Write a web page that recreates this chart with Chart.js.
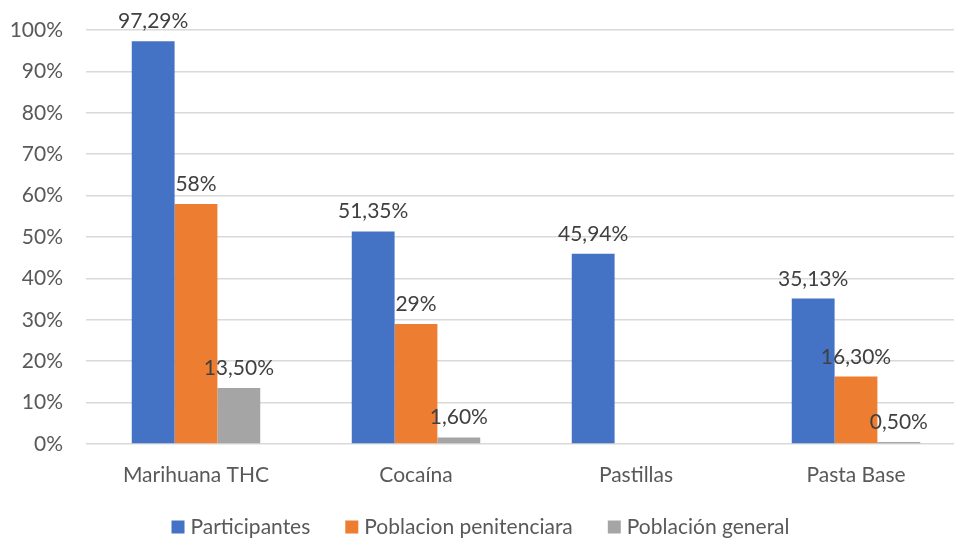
<!DOCTYPE html>
<html>
<head>
<meta charset="utf-8">
<script src="https://cdn.jsdelivr.net/npm/chart.js@4.4.1/dist/chart.umd.min.js"></script>
<style>
  html, body { margin: 0; padding: 0; background: #ffffff; overflow: hidden; }
  #marco { width: 954px; height: 540px; overflow: hidden; position: relative; }
  #lienzo { width: 966px; height: 540px; position: absolute; left: 0; top: 0; }
</style>
</head>
<body>
<div id="marco"><div id="lienzo"><canvas id="grafico"></canvas></div></div>
<script>
// --- DATOS ---
const categorias = ['Marihuana THC', 'Cocaína', 'Pastillas', 'Pasta Base'];
const participantes = [97.29, 51.35, 45.94, 35.13];
const poblacionPenitenciaria = [58, 29, null, 16.30];
const poblacionGeneral = [13.50, 1.60, null, 0.50];

const etiquetasParticipantes = ['97,29%', '51,35%', '45,94%', '35,13%'];
const etiquetasPenitenciaria = ['58%', '29%', '', '16,30%'];
const etiquetasGeneral = ['13,50%', '1,60%', '', '0,50%'];

const ticksY = [0, 10, 20, 30, 40, 50, 60, 70, 80, 90, 100];

const FUENTE = 'Lato, Carlito, Calibri, sans-serif';

// --- ETIQUETAS SOBRE LAS BARRAS ---
const pluginEtiquetas = {
    id: 'etiquetas',
    afterDatasetsDraw(chart) {
        const ctx = chart.ctx;
        ctx.save();
        ctx.font = '21px ' + FUENTE;
        ctx.fillStyle = '#404040';
        ctx.textAlign = 'center';
        ctx.textBaseline = 'alphabetic';
        chart.data.datasets.forEach((ds, i) => {
            const meta = chart.getDatasetMeta(i);
            meta.data.forEach((barra, j) => {
                const texto = ds.etiquetas[j];
                if (!texto || ds.data[j] == null) return;
                ctx.fillText(texto, barra.x, barra.y - 13);
            });
        });
        ctx.restore();
    }
};

// --- LEYENDA (dibujada a mano para controlar el espaciado) ---
const pluginLeyenda = {
    id: 'leyenda',
    afterDraw(chart) {
        const ctx = chart.ctx;
        const caja = 13, hueco = 6, separacion = 35;
        ctx.save();
        ctx.font = '21px ' + FUENTE;
        ctx.textBaseline = 'middle';
        ctx.textAlign = 'left';
        const items = chart.data.datasets.map(ds => ({
            texto: ds.label, color: ds.backgroundColor, ancho: ctx.measureText(ds.label).width
        }));
        const total = items.reduce((s, it) => s + caja + hueco + it.ancho, 0) + separacion * (items.length - 1);
        let x = 480.5 - total / 2;
        const y = 527;
        items.forEach(it => {
            ctx.fillStyle = it.color;
            ctx.fillRect(x, y - caja / 2, caja, caja);
            ctx.fillStyle = '#595959';
            ctx.fillText(it.texto, x + caja + hueco, y);
            x += caja + hueco + it.ancho + separacion;
        });
        ctx.restore();
    }
};

const ctx = document.getElementById('grafico').getContext('2d');
new Chart(ctx, {
    type: 'bar',
    data: {
        labels: categorias,
        datasets: [
            { label: 'Participantes', data: participantes, etiquetas: etiquetasParticipantes, backgroundColor: '#4472C4' },
            { label: 'Poblacion penitenciara', data: poblacionPenitenciaria, etiquetas: etiquetasPenitenciaria, backgroundColor: '#ED7D31' },
            { label: 'Población general', data: poblacionGeneral, etiquetas: etiquetasGeneral, backgroundColor: '#A5A5A5' }
        ]
    },
    options: {
        responsive: true,
        maintainAspectRatio: false,
        animation: false,
        layout: { padding: { top: 30, left: 0, right: 0, bottom: 0 } },
        datasets: { bar: { categoryPercentage: 0.584, barPercentage: 1.0, skipNull: false } },
        plugins: {
            legend: { display: false },
            tooltip: { enabled: false }
        },
        scales: {
            x: {
                afterFit(scale) { scale.height = 96; },
                grid: { display: false, drawTicks: false },
                border: { display: false },
                ticks: { color: '#595959', font: { family: FUENTE, size: 21 }, padding: 19, maxRotation: 0 }
            },
            y: {
                min: 0, max: 100,
                afterFit(scale) {
                    scale.width = 86;
                    scale.paddingTop = 0;
                    scale.paddingBottom = 0;
                },
                afterBuildTicks(scale) { scale.ticks = ticksY.map(v => ({ value: v })); },
                grid: { color: '#d9d9d9', lineWidth: 1.5, drawTicks: false },
                border: { display: false },
                ticks: {
                    color: '#595959', font: { family: FUENTE, size: 21 }, padding: 23,
                    callback: v => v + '%'
                }
            }
        }
    },
    plugins: [pluginEtiquetas, pluginLeyenda]
});
</script>
</body>
</html>
